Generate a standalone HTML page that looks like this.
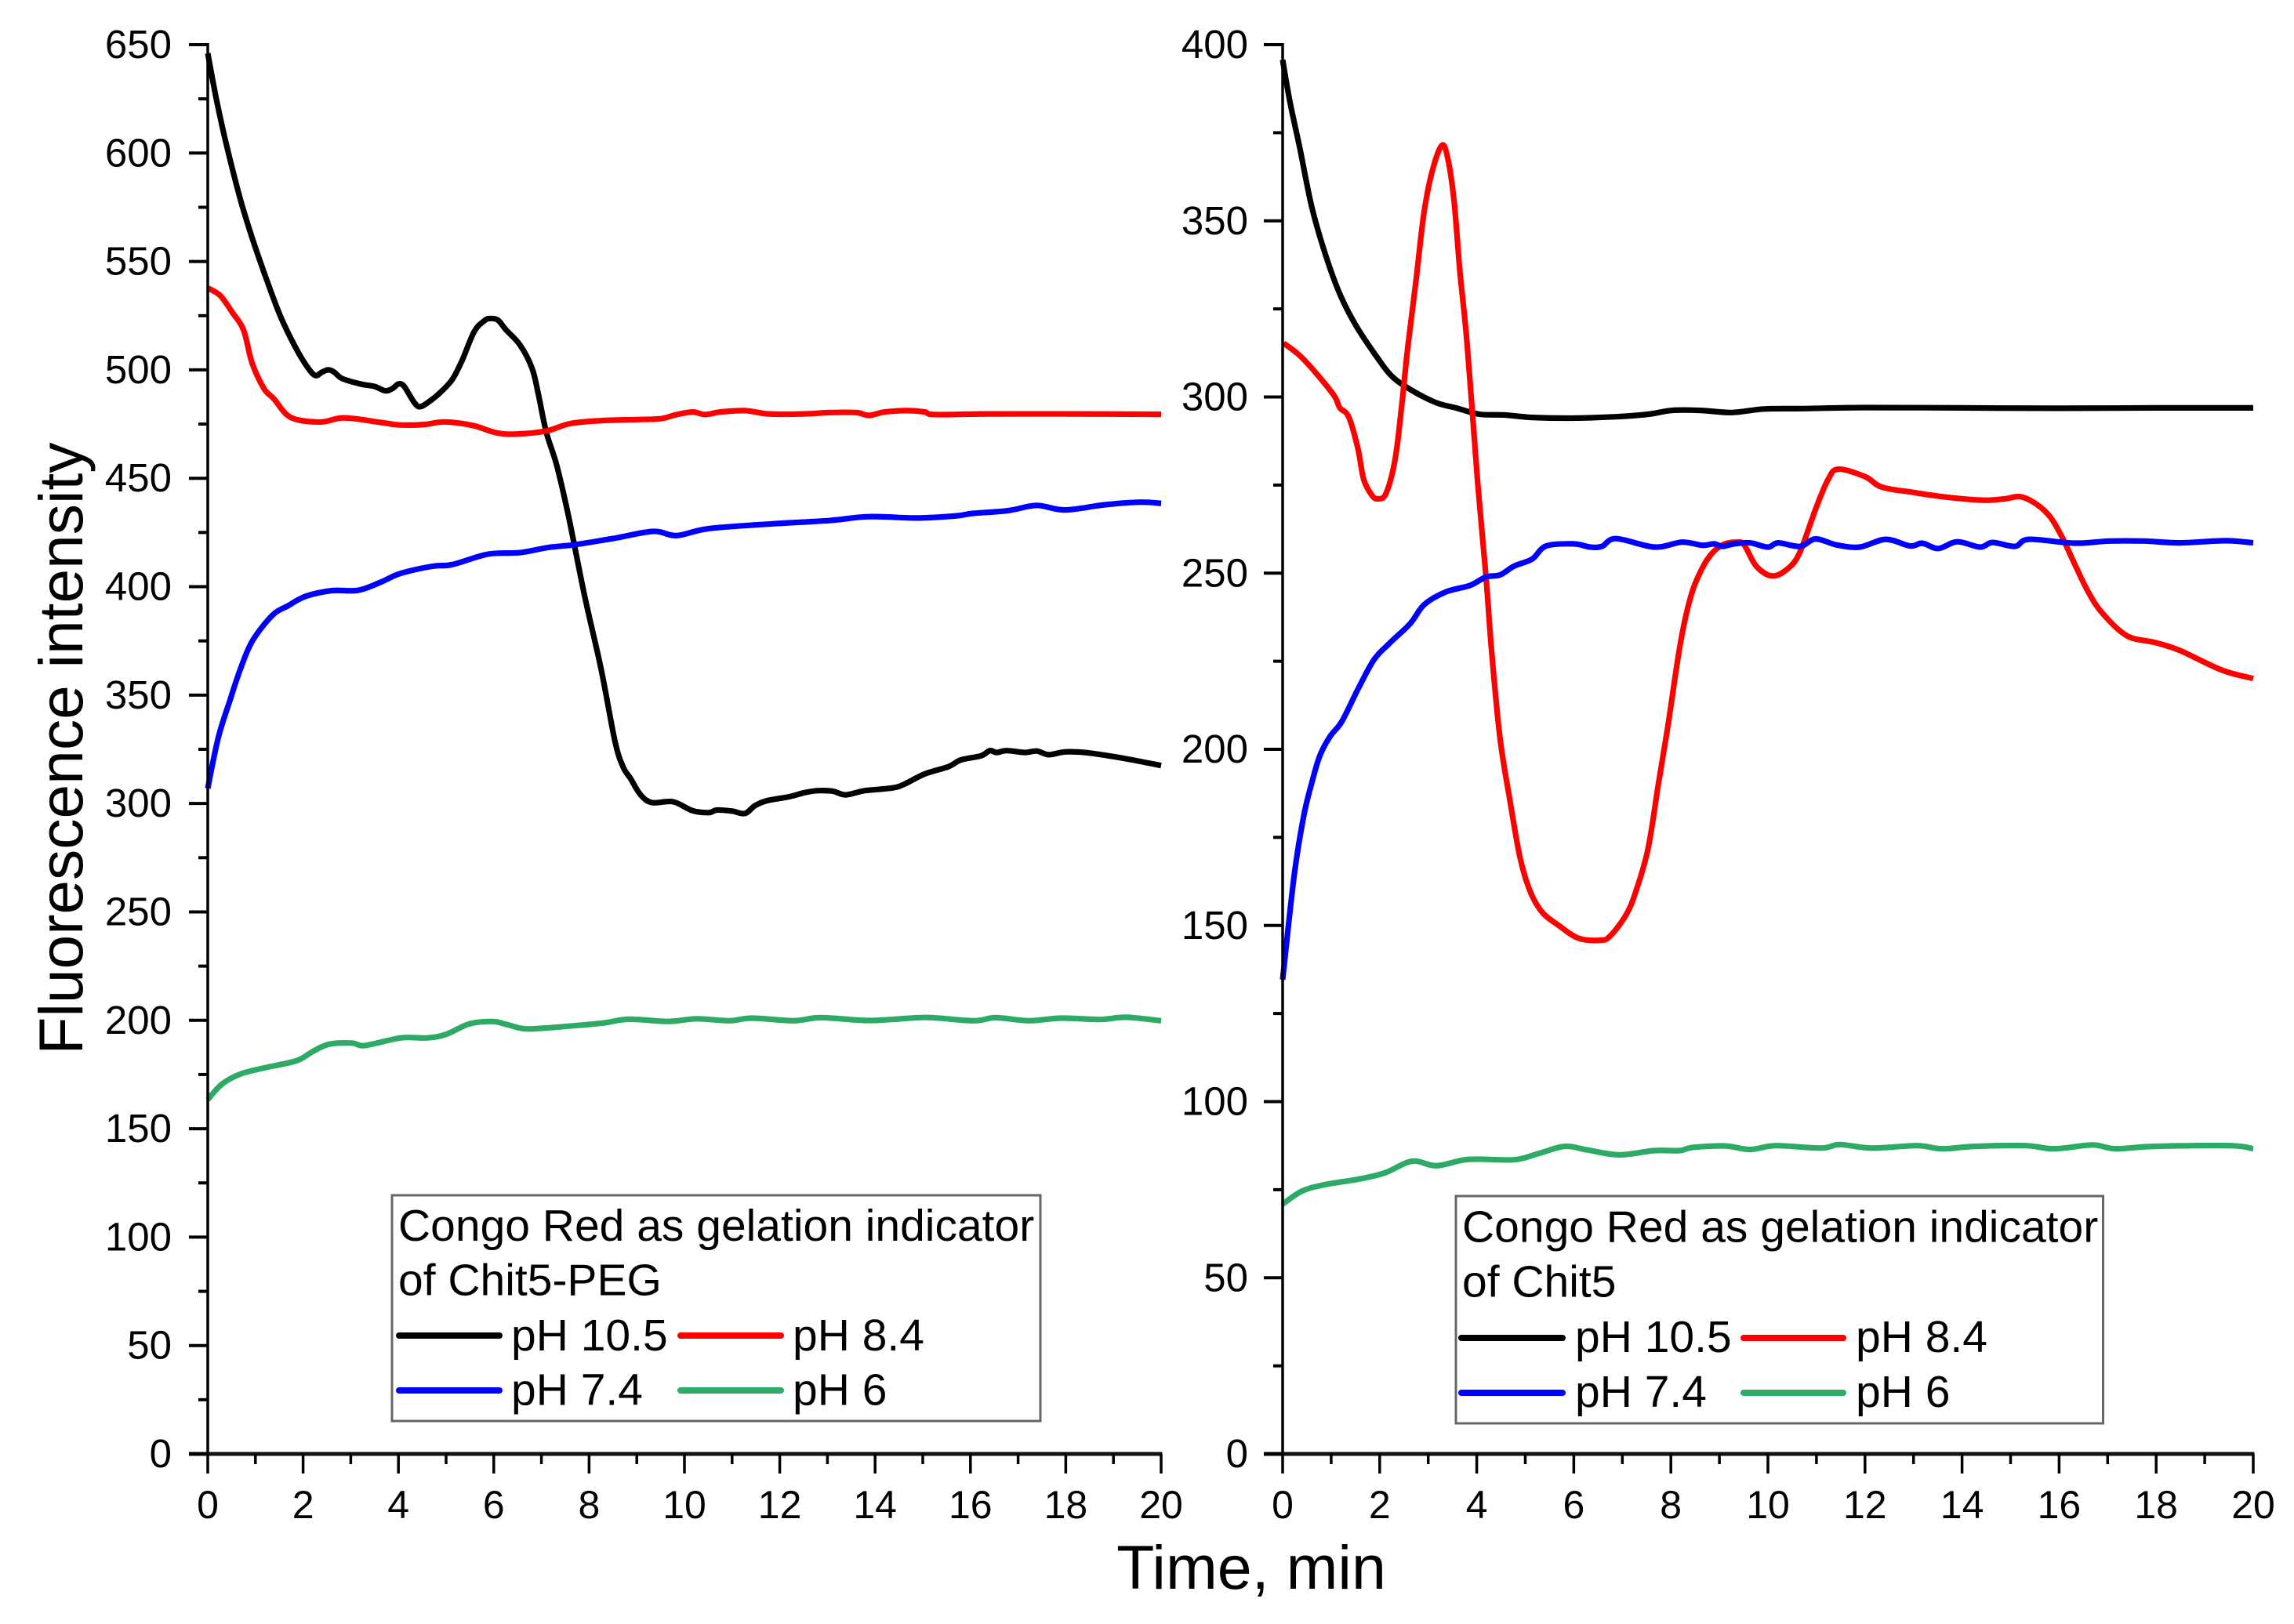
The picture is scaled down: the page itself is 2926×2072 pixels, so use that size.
<!DOCTYPE html>
<html lang="en">
<head>
<meta charset="utf-8">
<title>Congo Red gelation indicator fluorescence charts</title>
<style>
html,body{margin:0;padding:0;background:#fff;}
svg{display:block;}
text{font-family:"Liberation Sans",Arial,sans-serif;fill:#000;}
.leg{font-size:57px;}
.swatch{stroke-width:8;stroke-linecap:round;fill:none;}
.box{fill:#fff;stroke:#666;stroke-width:3;}
</style>
</head>
<body>
<svg id="figure" xmlns="http://www.w3.org/2000/svg" width="2926" height="2072" viewBox="0 0 2926 2072">
  <rect width="2926" height="2072" fill="#fff"/>
  <g id="left-panel"></g>
  <g id="right-panel"></g>

  <text transform="translate(105,955) rotate(-90)" text-anchor="middle" font-size="78.5">Fluorescence intensity</text>
  <text x="1596" y="2027" text-anchor="middle" font-size="79">Time, min</text>

  <g>
    <rect class="box" x="500" y="1525" width="827" height="288"/>
    <text class="leg" x="508" y="1583">Congo Red as gelation indicator</text>
    <text class="leg" x="508" y="1652.5">of Chit5-PEG</text>
    <line class="swatch" x1="509" y1="1704" x2="637" y2="1704" stroke="#000"/>
    <text class="leg" x="652" y="1723">pH 10.5</text>
    <line class="swatch" x1="868" y1="1704" x2="996" y2="1704" stroke="#ff0000"/>
    <text class="leg" x="1011" y="1723">pH 8.4</text>
    <line class="swatch" x1="509" y1="1774" x2="637" y2="1774" stroke="#0000ff"/>
    <text class="leg" x="652" y="1792.5">pH 7.4</text>
    <line class="swatch" x1="868" y1="1774" x2="996" y2="1774" stroke="#2caa66"/>
    <text class="leg" x="1011" y="1792.5">pH 6</text>
  </g>

  <g>
    <rect class="box" x="1857" y="1526" width="825.5" height="290"/>
    <text class="leg" x="1865" y="1584.5">Congo Red as gelation indicator</text>
    <text class="leg" x="1865" y="1654.5">of Chit5</text>
    <line class="swatch" x1="1864" y1="1707" x2="1993" y2="1707" stroke="#000"/>
    <text class="leg" x="2009" y="1725">pH 10.5</text>
    <line class="swatch" x1="2224" y1="1707" x2="2351" y2="1707" stroke="#ff0000"/>
    <text class="leg" x="2367" y="1725">pH 8.4</text>
    <line class="swatch" x1="1864" y1="1777" x2="1993" y2="1777" stroke="#0000ff"/>
    <text class="leg" x="2009" y="1795">pH 7.4</text>
    <line class="swatch" x1="2224" y1="1777" x2="2351" y2="1777" stroke="#2caa66"/>
    <text class="leg" x="2367" y="1795">pH 6</text>
  </g>
</svg>

<script>
// ---- shared ticks ----
const xMajorTicks = [0,2,4,6,8,10,12,14,16,18,20];
const xMinorTicks = [1,3,5,7,9,11,13,15,17,19];
const leftYMajorTicks = [0,50,100,150,200,250,300,350,400,450,500,550,600,650];
const leftYMinorTicks = [25,75,125,175,225,275,325,375,425,475,525,575,625];
const rightYMajorTicks = [0,50,100,150,200,250,300,350,400];
const rightYMinorTicks = [25,75,125,175,225,275,325,375];

// ---- left chart (Chit5-PEG) ----
const leftBlackTime = [0,0.18,0.39,0.68,0.93,1.18,1.52,1.85,2.1,2.26,2.4,2.53,2.65,2.82,3.2,3.49,3.72,3.87,4,4.12,4.33,4.45,4.62,4.87,5.13,5.34,5.59,5.8,5.92,6.09,6.26,6.55,6.8,6.93,7.1,7.32,7.57,7.91,8.25,8.54,8.71,8.87,9.08,9.32,9.76,10.17,10.51,10.68,11,11.27,11.48,11.73,12.19,12.52,12.78,13.11,13.38,13.78,14.37,14.62,15.04,15.54,15.8,16.22,16.41,16.55,16.76,17.14,17.39,17.64,17.98,18.4,18.9,19.4,20];
const leftBlackValues = [646,625,604,579,561,545,525,510,501,497.4,499,500,499,496,493.5,492.4,490.4,491.3,493.5,492.4,485,483,485,489.4,495.6,504.6,517.7,522.6,523.7,522.9,518.4,511.5,501,489.4,471.4,456,432.3,395.4,362.2,329,317,311.5,304,300.4,300.8,296.7,295.8,297,296.5,295.4,299,301.3,303.1,305,305.9,305.7,304,305.9,307.2,309,313.6,317,320.1,322,324.4,323.5,324.4,323.5,324.2,322.5,323.8,323.5,322,320.1,317.5];
const leftRedTime = [0,0.26,0.51,0.75,0.93,1.18,1.39,1.64,1.9,2.4,2.86,3.62,4.03,4.54,4.96,5.55,6.05,6.47,7.1,7.6,8.25,9,9.5,9.84,10.18,10.43,10.76,11.27,11.77,12.52,13.03,13.61,13.87,14.2,14.66,15.04,15.25,16.38,18.06,20];
const leftRedValues = [537.8,534.3,526.7,518.4,503.2,491.4,486.6,479.7,476.9,476,477.9,475.8,474.6,474.8,476,474.4,471,470.4,471.8,475.2,476.6,477.1,477.5,479.4,480.6,479.4,480.6,481.2,479.7,479.7,480.3,480.3,479,480.6,481.2,480.6,479.4,479.7,479.7,479.5];
const leftBlueTime = [0,0.22,0.47,0.68,0.93,1.35,1.69,2.06,2.61,3.15,3.62,4.04,4.71,5.13,5.88,6.55,7.14,7.7,8.5,9.34,9.84,10.51,11.85,13.03,13.87,14.87,15.71,16.05,16.8,17.39,17.98,18.82,19.57,20];
const leftBlueValues = [307,330.3,347.9,361.7,374.7,386.7,391.3,395.6,398.2,398.3,402,406.1,409.4,410.2,415,415.7,418.1,419.4,422.2,425.5,423.6,426.8,429,430.5,432.3,431.7,432.7,433.8,435.1,437.5,435.4,437.8,439,438.4];
const leftGreenTime = [0,0.3,0.71,1.26,1.87,2.21,2.55,3.03,3.3,4.05,4.6,5,5.48,5.96,6.23,6.64,7.12,7.8,8.35,8.83,9.65,10.26,10.94,11.42,12.3,12.85,13.81,14.35,15.1,16.06,16.53,17.22,17.9,18.72,19.26,20];
const leftGreenValues = [163.4,170.6,175.4,178.4,181.4,185.7,189,189.5,188.4,191.9,191.9,193.5,198.3,199.5,198.3,196.1,196.5,197.7,198.9,200.5,199.5,200.7,199.8,201,199.8,201.2,199.9,200.4,201.3,199.8,201.2,199.8,201,200.4,201.4,199.8];

// ---- right chart (Chit5) ----
const rightBlackTime = [0,0.15,0.35,0.6,0.89,1.18,1.51,1.92,2.25,2.66,3.16,3.57,4.06,4.56,5.14,5.96,6.87,7.53,8.02,8.6,9.26,9.92,10.72,12,14,16,18,20];
const rightBlackValues = [395.7,383.8,370.9,354,340.1,329.2,320.3,311.8,305.9,301.9,298.4,296.9,295.1,294.9,294.2,294,294.4,295.1,296.2,296.2,295.6,296.6,296.7,297,296.9,296.8,296.9,296.9];
const rightRedTime = [0.02,0.35,0.68,1.06,1.18,1.36,1.55,1.67,1.84,1.96,2.13,2.32,2.46,2.58,2.75,2.91,3.08,3.28,3.4,3.53,3.65,3.78,3.9,4.02,4.19,4.31,4.48,4.69,4.89,5.1,5.35,5.68,6.09,6.54,6.75,7.08,7.28,7.53,7.74,7.94,8.19,8.4,8.6,8.81,9.06,9.35,9.51,9.76,10.09,10.42,10.66,10.98,11.24,11.45,12,12.35,13,13.72,14.45,14.88,15.2,15.53,15.82,16.07,16.32,16.61,16.9,17.4,17.98,18.48,19.35,20];
const rightRedValues = [315.3,311.8,306.9,300.4,296.9,294.4,285.5,276.6,272.1,271.1,272.6,282.5,298.4,314.3,333.2,352,364,371.4,367.9,356,336.1,318.3,297.4,275.6,248.9,227.2,203.1,185,169.4,159.7,153.7,150.1,146.4,145.8,147,153.1,159.7,171.8,189.9,206.7,229.6,242.9,250.1,255,258,258.8,258,252,249.2,251.4,256,268.1,276.6,279.5,277.4,274.4,272.9,271.5,270.7,271.1,271.7,269.6,265.9,260,252.6,244.4,238.5,232.2,230.3,228.1,222.5,220.1];
const rightBlueTime = [0,0.24,0.44,0.61,0.77,0.98,1.22,1.55,1.88,2.21,2.63,2.92,3.37,3.86,4.19,4.48,4.77,5.14,5.43,6,6.34,6.58,6.87,7.66,8.23,8.65,8.89,9.06,9.3,9.63,10,10.21,10.66,10.98,11.42,11.89,12.43,12.93,13.18,13.51,13.9,14.37,14.63,15.09,15.38,16.32,17.04,17.76,18.48,19.42,20];
const rightBlueValues = [134.6,164.5,181.4,191,198.3,203.7,207.9,217,225.4,230.2,235.7,241.1,244.7,246.5,248.9,249.5,252,254,257.7,258.3,257.4,257.6,259.8,257.4,258.8,257.9,258.3,257.6,258.3,258.6,257.4,258.6,257.6,259.7,258,257.4,259.6,257.7,258.5,257,258.9,257.4,258.7,257.6,259.6,258.5,259.1,259.1,258.6,259.2,258.6];
const rightGreenTime = [0,0.4,0.86,1.59,2.11,2.67,3.17,3.83,4.76,5.28,5.81,6.27,6.93,7.66,8.18,8.45,9.13,9.63,10.16,11.09,11.48,12.14,13.07,13.59,14.25,15.31,15.9,16.69,17.16,17.95,19.53,20];
const rightGreenValues = [70.9,74.6,76.4,78.05,79.8,83.1,81.8,83.6,83.5,85.3,87.3,86.3,84.9,86.1,86.1,87,87.4,86.4,87.5,86.8,87.8,86.8,87.5,86.6,87.3,87.5,86.6,87.7,86.6,87.3,87.5,86.6];

const SVGNS = 'http://www.w3.org/2000/svg';

function mk(tag, attrs, parent) {
  const el = document.createElementNS(SVGNS, tag);
  for (const k in attrs) el.setAttribute(k, attrs[k]);
  parent.appendChild(el);
  return el;
}

// Smooth path through the data points (Catmull-Rom to Bezier).
function smoothPath(px, py) {
  const n = px.length;
  let d = 'M' + px[0].toFixed(1) + ' ' + py[0].toFixed(1);
  for (let i = 0; i < n - 1; i++) {
    const a = Math.max(i - 1, 0);
    const b = Math.min(i + 2, n - 1);
    const c1x = px[i] + (px[i + 1] - px[a]) / 6;
    const c1y = py[i] + (py[i + 1] - py[a]) / 6;
    const c2x = px[i + 1] - (px[b] - px[i]) / 6;
    const c2y = py[i + 1] - (py[b] - py[i]) / 6;
    d += 'C' + c1x.toFixed(1) + ' ' + c1y.toFixed(1) + ' ' + c2x.toFixed(1) + ' ' + c2y.toFixed(1) + ' ' + px[i + 1].toFixed(1) + ' ' + py[i + 1].toFixed(1);
  }
  return d;
}

function drawPanel(cfg) {
  const g = document.getElementById(cfg.id);
  const xScale = t => cfg.x0 + (t / 20) * (cfg.x20 - cfg.x0);
  const yScale = v => cfg.y0 - (v / cfg.yMax) * (cfg.y0 - cfg.yTop);

  cfg.series.forEach(s => {
    const d = smoothPath(s.time.map(xScale), s.values.map(yScale));
    const el = mk('path', {d: d, fill: 'none', stroke: s.color, 'stroke-width': 7.2, 'stroke-linejoin': 'round', 'stroke-linecap': 'butt'}, g);
    
    
  });

  const yAxis = mk('line', {x1: cfg.x0, y1: yScale(cfg.yMax) - 2, x2: cfg.x0, y2: cfg.y0, stroke: '#000', 'stroke-width': 3.5}, g);
  
  

  const xAxis = mk('line', {x1: cfg.x0 - 24, y1: cfg.y0, x2: cfg.x20 + 1.5, y2: cfg.y0, stroke: '#111', 'stroke-width': 5}, g);
  
  

  cfg.yMajor.forEach(v => {
    const y = yScale(v);
    const tick = mk('line', {x1: cfg.x0 - 24, y1: y, x2: cfg.x0, y2: y, stroke: '#000', 'stroke-width': 4}, g);
    
    
    const label = mk('text', {x: cfg.yLabelX, y: y + 17, 'text-anchor': 'end', 'font-size': 51}, g);
    label.textContent = String(v);
    
    
  });

  cfg.yMinor.forEach(v => {
    const y = yScale(v);
    const tick = mk('line', {x1: cfg.x0 - 12, y1: y, x2: cfg.x0, y2: y, stroke: '#000', 'stroke-width': 4}, g);
    
    
  });

  xMajorTicks.forEach(t => {
    const x = xScale(t);
    const tick = mk('line', {x1: x, y1: cfg.y0, x2: x, y2: cfg.y0 + 25, stroke: '#000', 'stroke-width': 3.5}, g);
    
    
    const label = mk('text', {x: x, y: 1937, 'text-anchor': 'middle', 'font-size': 50}, g);
    label.textContent = String(t);
    
    
  });

  xMinorTicks.forEach(t => {
    const x = xScale(t);
    const tick = mk('line', {x1: x, y1: cfg.y0, x2: x, y2: cfg.y0 + 13, stroke: '#000', 'stroke-width': 3.5}, g);
    
    
  });
}

drawPanel({
  id: 'left-panel', prefix: 'left', x0: 265, x20: 1481, y0: 1855, yTop: 57, yMax: 650, yLabelX: 219,
  yMajor: leftYMajorTicks, yMinor: leftYMinorTicks,
  series: [
    {name: 'ph-10-5', color: '#000', time: leftBlackTime, values: leftBlackValues},
    {name: 'ph-8-4', color: '#ff0000', time: leftRedTime, values: leftRedValues},
    {name: 'ph-7-4', color: '#0000ff', time: leftBlueTime, values: leftBlueValues},
    {name: 'ph-6', color: '#2caa66', time: leftGreenTime, values: leftGreenValues}
  ]
});

drawPanel({
  id: 'right-panel', prefix: 'right', x0: 1636, x20: 2874, y0: 1855, yTop: 57, yMax: 400, yLabelX: 1592,
  yMajor: rightYMajorTicks, yMinor: rightYMinorTicks,
  series: [
    {name: 'ph-10-5', color: '#000', time: rightBlackTime, values: rightBlackValues},
    {name: 'ph-8-4', color: '#ff0000', time: rightRedTime, values: rightRedValues},
    {name: 'ph-7-4', color: '#0000ff', time: rightBlueTime, values: rightBlueValues},
    {name: 'ph-6', color: '#2caa66', time: rightGreenTime, values: rightGreenValues}
  ]
});
</script>
</body>
</html>
